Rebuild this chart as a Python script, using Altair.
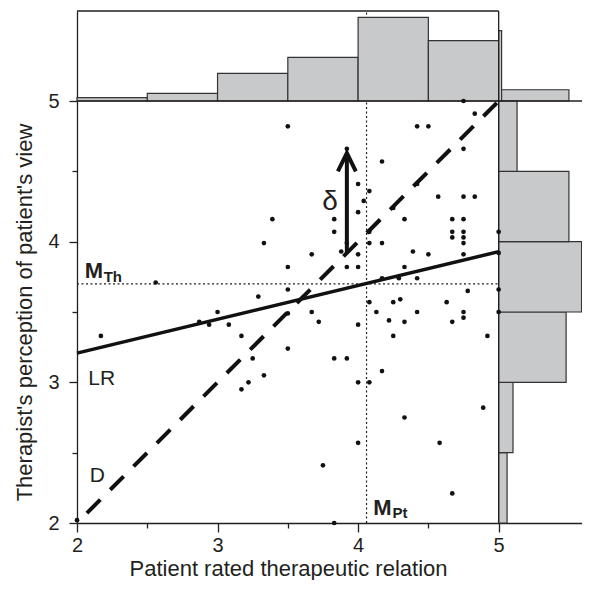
import altair as alt
import pandas as pd

# ---------------- data ----------------
pt_x = [3.50, 3.39, 3.33, 3.50, 2.56, 3.29, 3.00, 3.50,
        3.92, 4.17, 4.42, 4.50, 4.75, 4.83, 4.75, 4.00, 4.08, 4.04, 4.00, 3.83,
        3.83, 3.92, 3.88, 4.00, 4.00, 3.92, 3.67, 4.08, 4.08, 4.17, 4.25, 4.42,
        4.33, 4.57, 4.75, 4.83, 4.67, 4.75, 4.67, 4.67, 4.75, 4.75, 4.75, 4.75,
        4.50, 4.39, 4.33, 4.17, 4.29, 4.42, 5.00, 4.78, 5.00, 4.08, 4.25, 4.30,
        4.63, 3.67, 4.13, 4.42, 4.75, 5.00,
        3.50, 4.75, 3.72, 4.00, 4.22, 4.33, 4.67, 4.25, 4.92, 3.50, 3.83, 3.92,
        4.17, 4.00, 4.08, 4.89, 4.33, 4.00, 4.58, 3.75, 4.67, 3.83,
        2.17, 2.87, 2.94, 3.08, 3.17, 3.25, 3.33, 3.17, 3.22, 2.00, 5.00]
pt_y = [4.82, 4.16, 3.99, 3.82, 3.71, 3.61, 3.50, 3.66,
        4.66, 4.57, 4.82, 4.82, 5.00, 4.91, 4.66, 4.41, 4.36, 4.29, 4.21, 4.16,
        4.07, 3.99, 3.93, 3.91, 3.82, 3.82, 3.91, 4.07, 3.99, 3.99, 4.24, 4.41,
        4.16, 4.32, 4.32, 4.32, 4.16, 4.16, 4.07, 4.03, 4.07, 4.03, 3.99, 3.91,
        3.91, 3.93, 3.82, 3.74, 3.74, 3.74, 4.07, 3.65, 3.66, 3.57, 3.57, 3.59,
        3.57, 3.50, 3.50, 3.50, 3.50, 3.50,
        3.49, 3.46, 3.43, 3.41, 3.44, 3.43, 3.43, 3.33, 3.33, 3.24, 3.17, 3.17,
        3.08, 3.00, 3.00, 2.82, 2.75, 2.57, 2.57, 2.41, 2.21, 2.00,
        3.33, 3.43, 3.41, 3.41, 3.33, 3.17, 3.05, 2.95, 3.00, 2.02, 3.92]

# marginal histogram of patient ratings (top)
top_bin_start = [2.0, 2.5, 3.0, 3.5, 4.0, 4.5, 5.0]
top_bin_end = [2.5, 3.0, 3.5, 4.0, 4.5, 5.0, 5.5]
top_height = [0.024, 0.055, 0.197, 0.31, 0.595, 0.43, 0.08]

# marginal histogram of therapist ratings (right)
right_bin_start = [2.0, 2.5, 3.0, 3.5, 4.0, 4.5, 5.0]
right_bin_end = [2.5, 3.0, 3.5, 4.0, 4.5, 5.0, 5.5]
right_width = [0.06, 0.102, 0.48, 0.59, 0.50, 0.131, 0.021]

# regression line (LR) and diagonal (D)
lr_x = [2.0, 5.0]
lr_y = [3.208, 3.929]
d_x = [2.0, 5.0]
d_y = [2.0, 5.0]

mean_pt = 4.06
mean_th = 3.70

# delta arrow
arrow_x = 3.92
arrow_y0 = 3.92
arrow_y1 = 4.63

X_MAX = 5.593
Y_MAX = 5.64
MARGIN_BASE = 5.0
tick_values = [2, 2.5, 3, 3.5, 4, 4.5, 5]

INK = "#231f20"
FONT = "Liberation Sans"

# ---------------- axes / scales ----------------
xs = alt.Scale(domain=[2, X_MAX], nice=False, zero=False)
ys = alt.Scale(domain=[2, Y_MAX], nice=False, zero=False)

ax_x = alt.Axis(
    values=tick_values,
    labelExpr="datum.value % 1 == 0 ? format(datum.value, 'd') : ''",
    tickSize={"condition": {"test": "datum.value % 1 != 0", "value": 5}, "value": 9},
    grid=False, domainColor=INK, tickColor=INK, domainWidth=1.3, tickWidth=1.3,
    labelFont=FONT, labelFontSize=20, labelColor=INK, labelPadding=3,
    labelFlush=False, labelOverlap=False,
    title="Patient rated therapeutic relation",
    titleFont=FONT, titleFontSize=22, titleFontWeight="normal", titleColor=INK,
    titleX=211, titleY=52, titleAlign="center", titleBaseline="alphabetic",
)
ax_y = alt.Axis(
    values=tick_values,
    labelExpr="datum.value % 1 == 0 ? format(datum.value, 'd') : ''",
    tickSize={"condition": {"test": "datum.value % 1 != 0", "value": 5}, "value": 8},
    grid=False, domainColor=INK, tickColor=INK, domainWidth=1.3, tickWidth=1.3,
    labelFont=FONT, labelFontSize=20, labelColor=INK, labelPadding=10,
    labelFlush=False, labelOverlap=False,
    title="Therapist's perception of patient's view",
    titleFont=FONT, titleFontSize=22, titleFontWeight="normal", titleColor=INK,
    titleX=-46, titleY=301, titleAngle=270, titleAlign="center", titleBaseline="alphabetic",
)


def X(f):
    return alt.X(f, type="quantitative", scale=xs, axis=ax_x)


def Y(f):
    return alt.Y(f, type="quantitative", scale=ys, axis=ax_y)


# ---------------- tables ----------------
pts = pd.DataFrame({"x": pt_x, "y": pt_y})

top_hist = pd.DataFrame({
    "x": top_bin_start, "x2": top_bin_end,
    "y": [MARGIN_BASE] * len(top_height),
    "y2": [MARGIN_BASE + h for h in top_height],
})
right_hist = pd.DataFrame({
    "x": [MARGIN_BASE] * len(right_width),
    "x2": [MARGIN_BASE + w for w in right_width],
    "y": right_bin_start, "y2": right_bin_end,
})
hist = pd.concat([top_hist, right_hist], ignore_index=True)

frame = pd.DataFrame({
    "x": [2.0, MARGIN_BASE, 2.0],
    "x2": [MARGIN_BASE, MARGIN_BASE, X_MAX],
    "y": [Y_MAX, 2.0, MARGIN_BASE],
    "y2": [Y_MAX, Y_MAX, MARGIN_BASE],
})
dotted = pd.DataFrame({
    "x": [mean_pt, 2.0],
    "x2": [mean_pt, X_MAX],
    "y": [2.0, mean_th],
    "y2": [Y_MAX, mean_th],
})
lr = pd.DataFrame({"x": lr_x, "y": lr_y})
dl = pd.DataFrame({"x": d_x, "y": d_y})
shaft = pd.DataFrame({"x": [arrow_x], "y": [arrow_y0], "y2": [arrow_y1 - 0.01]})
head = pd.DataFrame({
    "x": [arrow_x - 0.064, arrow_x, arrow_x + 0.064],
    "y": [arrow_y1 - 0.13, arrow_y1, arrow_y1 - 0.13],
    "o": [0, 1, 2],
})

plain_text = pd.DataFrame({
    "t": ["LR", "D"],
    "x": [2.08, 2.09],
    "y": [2.98, 2.29],
    "s": [21, 21],
})
delta_text = pd.DataFrame({"t": ["δ"], "x": [3.80], "y": [4.285]})
bold_text = pd.DataFrame({
    "t": ["M", "Th", "M", "Pt"],
    "x": [2.055, 2.19, 4.107, 4.245],
    "y": [3.741, 3.716, 2.059, 2.038],
    "s": [22, 15, 22, 15],
})

# ---------------- layers ----------------
dotted_l = alt.Chart(dotted).mark_rule(color=INK, strokeWidth=1.2, strokeDash=[2, 2.5]).encode(
    x=X("x"), x2="x2", y=Y("y"), y2="y2")
hist_l = alt.Chart(hist).mark_rect(fill="#c8c9cb", stroke="#333333", strokeWidth=1.2).encode(
    x=X("x"), x2="x2", y=Y("y"), y2="y2")
frame_l = alt.Chart(frame).mark_rule(color=INK, strokeWidth=1.3).encode(
    x=X("x"), x2="x2", y=Y("y"), y2="y2")
d_l = alt.Chart(dl).mark_line(color="#111111", strokeWidth=4, strokeDash=[19, 14],
                              strokeDashOffset=19, strokeCap="butt").encode(x=X("x"), y=Y("y"))
lr_l = alt.Chart(lr).mark_line(color="#111111", strokeWidth=3.5, strokeCap="butt").encode(
    x=X("x"), y=Y("y"))
shaft_l = alt.Chart(shaft).mark_rule(color="#111111", strokeWidth=4, strokeCap="butt").encode(
    x=X("x"), y=Y("y"), y2="y2")
head_l = alt.Chart(head).mark_line(color="#111111", strokeWidth=4, strokeJoin="miter",
                                   strokeCap="butt").encode(x=X("x"), y=Y("y"), order="o:Q")
pts_l = alt.Chart(pts).mark_circle(color="#111111", opacity=1, size=22).encode(
    x=X("x"), y=Y("y"))
txt_l = alt.Chart(plain_text).mark_text(align="left", baseline="alphabetic", font=FONT,
                                        color=INK).encode(
    x=X("x"), y=Y("y"), text="t:N", size=alt.Size("s:Q", scale=None, legend=None))
delta_l = alt.Chart(delta_text).mark_text(align="center", baseline="middle", font=FONT,
                                          fontSize=28, color=INK).encode(
    x=X("x"), y=Y("y"), text="t:N")
btxt_l = alt.Chart(bold_text).mark_text(align="left", baseline="alphabetic", font=FONT,
                                        fontWeight="bold", color=INK).encode(
    x=X("x"), y=Y("y"), text="t:N", size=alt.Size("s:Q", scale=None, legend=None))

chart = alt.layer(
    dotted_l, hist_l, frame_l, d_l, lr_l, shaft_l, head_l, pts_l, txt_l, delta_l, btxt_l
).properties(
    width=505, height=512,
    autosize=alt.AutoSizeParams(type="none"),
    padding={"left": 69, "top": 3, "right": 0, "bottom": 57},
).configure_view(strokeWidth=0)

chart.save("out.html", embed_options={"renderer": "svg", "actions": False})
